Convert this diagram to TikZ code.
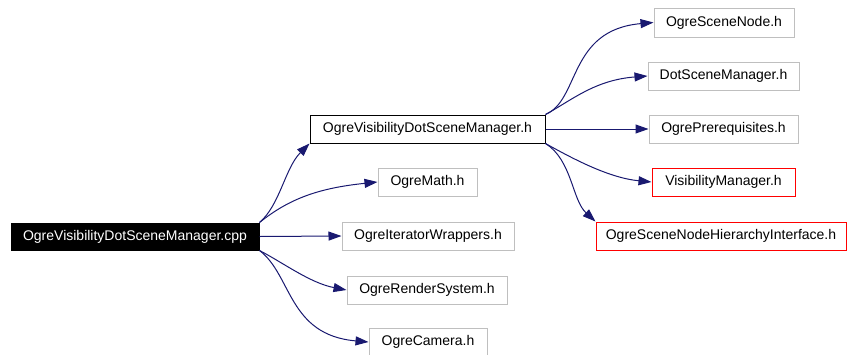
\documentclass[tikz,border=0pt]{standalone}
\usepackage{fontspec}
\setmainfont{Liberation Sans}
\usetikzlibrary{arrows.meta}
\definecolor{edgeblue}{HTML}{191970}
\definecolor{boxgrey}{HTML}{BFBFBF}
\begin{document}
\begin{tikzpicture}[x=1pt,y=-1pt,
  box/.style={draw=boxgrey,line width=1pt,fill=white,minimum height=28pt,inner sep=0pt,font=\fontsize{14pt}{16pt}\selectfont},
  redbox/.style={box,draw=red},
  hdrbox/.style={box,draw=black},
  rootbox/.style={box,draw=black,fill=black,text=white},
  edge/.style={draw=edgeblue,line width=1pt,-{Triangle[length=13pt,width=9pt]}}]
\useasboundingbox (0,0) rectangle (847,354);
\node[rootbox,minimum width=248pt,minimum height=27pt] (root) at (135,236.5) {OgreVisibilityDotSceneManager.cpp};
\node[hdrbox,minimum width=235pt] (hdr) at (427.5,129) {OgreVisibilityDotSceneManager.h};
\node[box,minimum width=140pt,minimum height=29pt] (sn) at (724,22.5) {OgreSceneNode.h};
\node[box,minimum width=151pt] (dsm) at (723.5,76) {DotSceneManager.h};
\node[box,minimum width=149pt] (pre) at (723.5,129) {OgrePrerequisites.h};
\node[redbox,minimum width=143pt] (vis) at (723.5,182) {VisibilityManager.h};
\node[redbox,minimum width=250pt] (hier) at (721,236) {OgreSceneNodeHierarchyInterface.h};
\node[box,minimum width=99pt] (math) at (427.5,182) {OgreMath.h};
\node[box,minimum width=172pt] (iter) at (428,236) {OgreIteratorWrappers.h};
\node[box,minimum width=160pt] (rs) at (427,290) {OgreRenderSystem.h};
\node[box,minimum width=118pt] (cam) at (428,342) {OgreCamera.h};
% edges from root
\draw[edge] (root.north east) .. controls (280,205) and (285,168) .. (hdr.south west);
\draw[edge] (root.north east) .. controls (290,198) and (320,188) .. (math.west);
\draw[edge] (root.east) -- (iter.west);
\draw[edge] (root.south east) .. controls (282,262) and (310,283) .. (rs.west);
\draw[edge] (root.south east) .. controls (292,275) and (288,335) .. (cam.west);
% edges from header
\draw[edge] (hdr.north east) .. controls (580,100) and (568,30) .. (sn.west);
\draw[edge] (hdr.north east) .. controls (572,100) and (595,80) .. (dsm.west);
\draw[edge] (hdr.east) -- (pre.west);
\draw[edge] (hdr.south east) .. controls (575,160) and (610,178) .. (vis.west);
\draw[edge] (hdr.south east) .. controls (572,160) and (572,200) .. (hier.north west);
\end{tikzpicture}
\end{document}
